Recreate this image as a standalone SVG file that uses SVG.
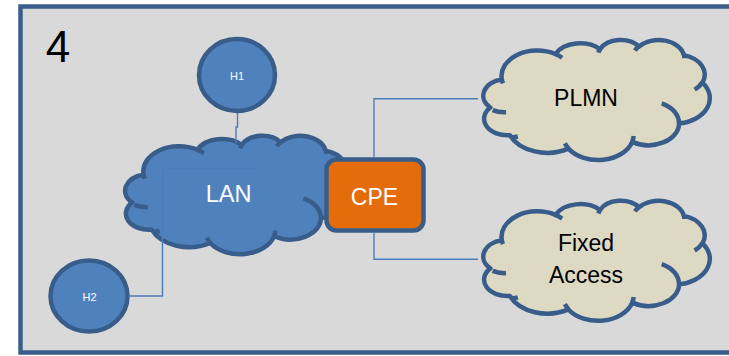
<svg xmlns="http://www.w3.org/2000/svg" xmlns:xlink="http://www.w3.org/1999/xlink" width="729" height="356" viewBox="0 0 729 356">
  <style>
    .frame { fill: #d9d9d9; stroke: #385d8a; stroke-width: 4.5; }
    .outline { stroke: #385d8a; stroke-width: 4.5; stroke-linejoin: round; }
    .detail { fill: none; stroke: #385d8a; stroke-width: 4.5; stroke-linecap: butt; }
    .blue { fill: #4f81bd; }
    .sand { fill: #ddd9c3; }
    .cpe { fill: #e46c0a; stroke: #385d8a; stroke-width: 4.5; }
    .wire { fill: none; stroke: #4a7ebb; stroke-width: 1.4; }
    text { font-family: "Liberation Sans", Arial, sans-serif; text-anchor: middle; }
    .light { fill: #ffffff; }
    .dark { fill: #000000; }
  </style>
  <defs>
    <!-- cloud shape on a 432 x 432 grid; strokes keep their width when scaled -->
    <path id="cloud-shape" vector-effect="non-scaling-stroke" d="M39,143.7 A67.53 91.9 0 0 1 140.06,52.03 A53.33 72.67 0 0 1 224.56,34.32 A43.65 59.45 0 0 1 298.34,24.81 A48.57 65.95 0 0 1 383.18,55.78 A53.33 72.73 0 0 1 418.19,154.62 A67.75 92.2 0 0 1 374.05,302.03 A57.85 78.67 0 0 1 285.56,368.13 A67.52 92.15 0 0 1 164.82,392.64 A77.2 105.43 0 0 1 54.14,344.03 A43.6 59.18 0 0 1 17.24,244.8 A43.45 59.45 0 0 1 39,143.7 Z"/>
    <path id="cloud-folds" vector-effect="non-scaling-stroke" d="M46.93,261.77 A43.45 59.45 0 0 1 21.59,253.79 M69.28,348.99 A43.6 59.18 0 0 1 58.19,352.81 M164.78,390.9 A67.52 92.15 0 0 1 158.09,373.5 M288.27,347.51 A67.52 92.15 0 0 1 285.6,366.6 M341.29,229.54 A57.85 78.67 0 0 1 373.8,300.9 M417.98,153.54 A53.33 72.73 0 0 1 403.49,180.31 M383.24,54.26 A48.57 65.95 0 0 1 384,66.9 M290.78,39.52 A48.57 65.95 0 0 1 298.21,23.38 M221.41,47.2 A43.65 59.45 0 0 1 225,33.3 M140,51.92 A67.53 91.9 0 0 1 152.99,65.4 M41.27,157.89 A67.53 91.9 0 0 1 39,143.7"/>
  </defs>

  <!-- panel -->
  <rect class="frame" x="20.5" y="6.5" width="740" height="346"/>
  <text class="dark" x="58" y="62" font-size="44">4</text>

  <g id="lan">
    <use xlink:href="#cloud-shape" class="blue outline" transform="translate(123,135.4) scale(0.529,0.274)"/>
    <use xlink:href="#cloud-folds" class="detail" transform="translate(123,135.4) scale(0.529,0.274)"/>
    <text class="light" x="228.5" y="201.5" font-size="23.5">LAN</text>
  </g>

  <g id="plmn">
    <use xlink:href="#cloud-shape" class="sand outline" transform="translate(481.2,39.6) scale(0.529,0.2777)"/>
    <use xlink:href="#cloud-folds" class="detail" transform="translate(481.2,39.6) scale(0.529,0.2777)"/>
    <text class="dark" x="586" y="106" font-size="23">PLMN</text>
  </g>

  <g id="fixed-access">
    <use xlink:href="#cloud-shape" class="sand outline" transform="translate(481.2,200.4) scale(0.529,0.2777)"/>
    <use xlink:href="#cloud-folds" class="detail" transform="translate(481.2,200.4) scale(0.529,0.2777)"/>
    <text class="dark" x="586" y="251" font-size="23">Fixed</text>
    <text class="dark" x="586" y="283.3" font-size="23">Access</text>
  </g>

  <g id="cpe">
    <rect class="cpe" x="326.5" y="159.5" width="97" height="71" rx="10"/>
    <text class="light" x="374.5" y="205" font-size="23">CPE</text>
  </g>

  <g id="h1">
    <ellipse class="blue outline" cx="237" cy="75" rx="38" ry="36"/>
    <text class="light" x="237" y="80" font-size="11">H1</text>
  </g>

  <g id="h2">
    <ellipse class="blue outline" cx="89" cy="296" rx="38.5" ry="35.5"/>
    <text class="light" x="89.5" y="301" font-size="11">H2</text>
  </g>

  <g id="connectors">
    <polyline class="wire" points="237.5,113 237.5,127 236,127 236,143"/>
    <polyline class="wire" points="130,296 162.5,296 162.5,168.3 259,168.3"/>
    <polyline class="wire" points="374,157 374,98.8 478,98.8"/>
    <polyline class="wire" points="374,233 374,259.3 478,259.3"/>
  </g>
</svg>
